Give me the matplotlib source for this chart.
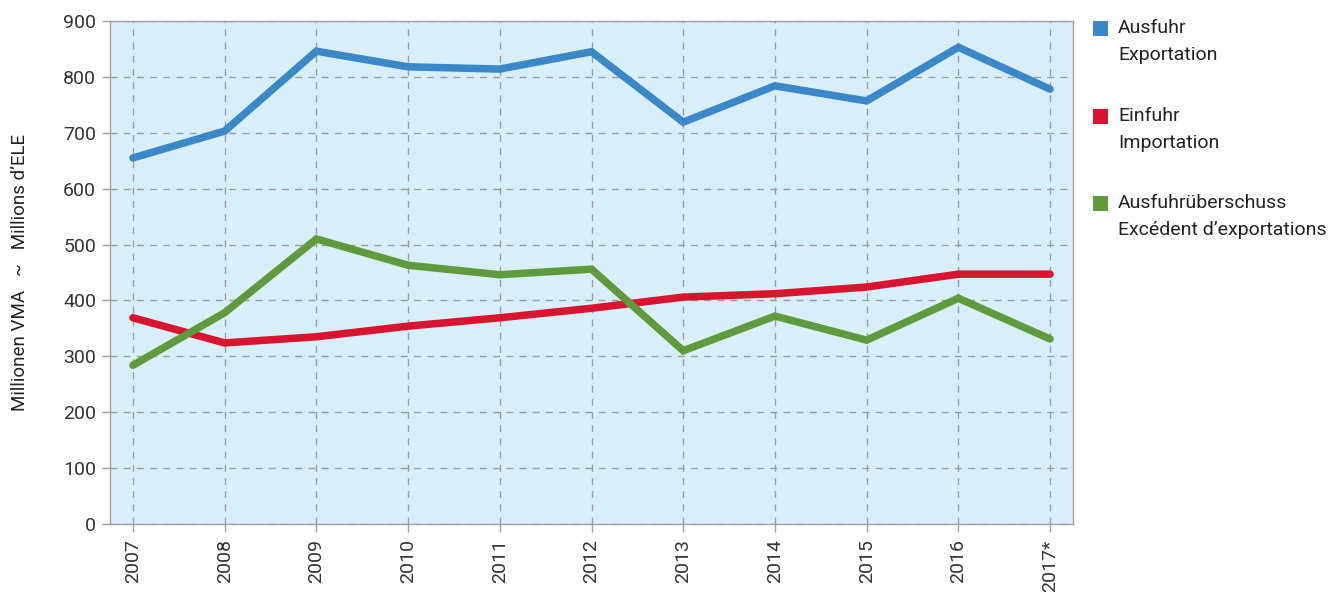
import matplotlib
matplotlib.use("Agg")
import matplotlib.pyplot as plt
from matplotlib.patches import Rectangle

years = ["2007", "2008", "2009", "2010", "2011", "2012", "2013", "2014", "2015", "2016", "2017*"]
ausfuhr = [655, 703, 846, 818, 814, 845, 719, 784, 757, 853, 778]
einfuhr = [369, 324, 335, 354, 369, 386, 406, 412, 424, 447, 447]
ueberschuss = [284, 378, 510, 463, 446, 456, 310, 372, 329, 404, 331]
yticks = [0, 100, 200, 300, 400, 500, 600, 700, 800, 900]

series_labels = ["Ausfuhr\nExportation", "Einfuhr\nImportation",
                 "Ausfuhrüberschuss\nExcédent d\u2019exportations"]
colors = ["#3b88c9", "#d8142e", "#5f9b3c"]

plt.rcParams['font.family'] = ['Roboto', 'DejaVu Sans']

fig = plt.figure(figsize=(13.34, 5.97), dpi=100)
ax = fig.add_axes([110/1334, 1 - 524/597, (1073-110)/1334, (524-21)/597])
ax.set_facecolor("#d8eff9")

x = list(range(len(years)))
for vals, c in zip([ausfuhr, einfuhr, ueberschuss], colors):
    ax.plot(x, vals, color=c, lw=5.4, solid_capstyle='round', solid_joinstyle='miter', zorder=3)

ax.set_xlim(-0.25, len(years) - 1 + 0.25)
ax.set_ylim(0, 900)
ax.set_yticks(yticks)
ax.set_xticks(x)
ax.set_xticklabels(years, rotation=90)
ax.grid(True, color="#9c9c9c", linestyle=(0, (5, 4.5)), lw=1.0)
ax.set_axisbelow(True)
for s in ax.spines.values():
    s.set_color("#a0a0a0")
    s.set_linewidth(1.0)
ax.tick_params(axis='both', colors="#a0a0a0", labelcolor="#333333", labelsize=14, length=6, width=1.0)
ax.tick_params(axis='y', pad=4)
ax.tick_params(axis='x', pad=5)

fig.text(20/1334, 1 - 272/597, "Millionen VMA   ~   Millions d\u2019ELE", rotation=90,
         ha='center', va='center', fontsize=13.5, color="#222222")

# legend
ys = [28, 116, 203]
for y, c, lab in zip(ys, colors, series_labels):
    fig.patches.append(Rectangle((1093/1334, 1 - (y + 8)/597), 15/1334, 15/597,
                                 transform=fig.transFigure, facecolor=c, edgecolor='none'))
    fig.text(1118/1334, 1 - (y - 9)/597, lab, ha='left', va='top', fontsize=14,
             color="#222222", linespacing=1.62)

fig.savefig("out.png", dpi=100)
